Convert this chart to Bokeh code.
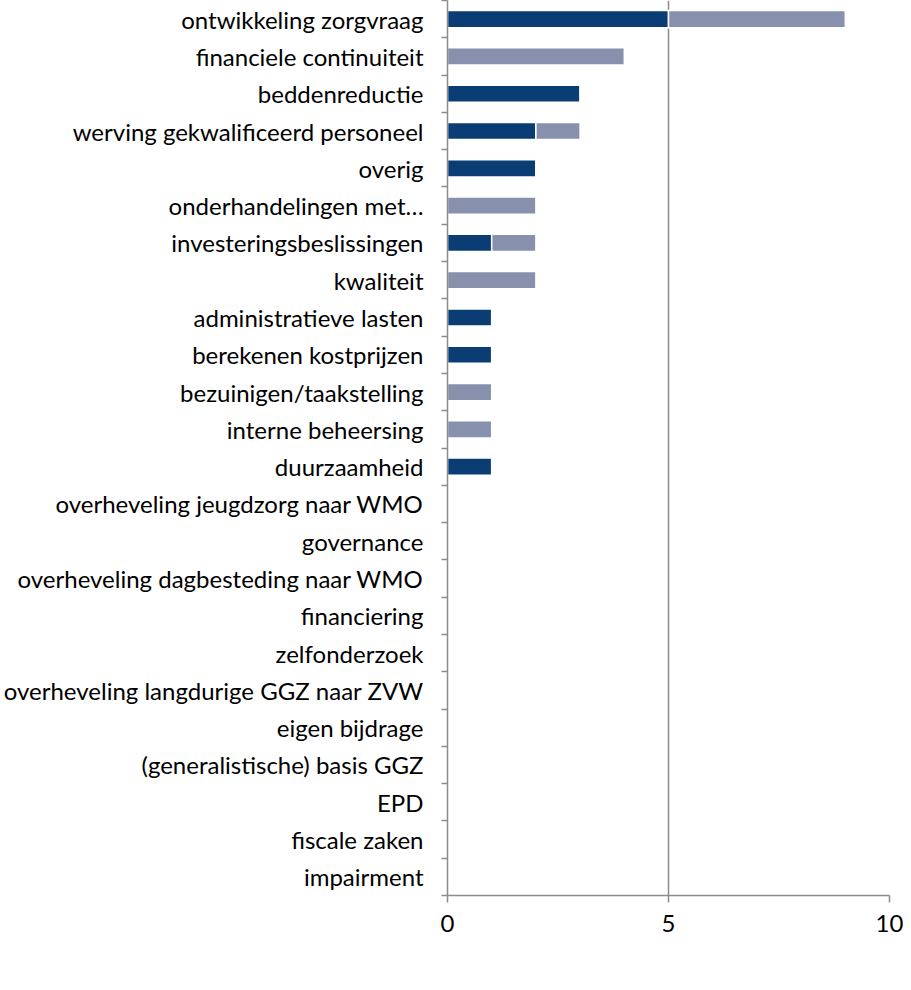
from bokeh.plotting import figure
from bokeh.layouts import column
from bokeh.models import ColumnDataSource, FixedTicker, Legend, LegendItem, Range1d
from bokeh.embed import file_html
from bokeh.resources import INLINE

categories = [
    "ontwikkeling zorgvraag", "financiele continuiteit", "beddenreductie",
    "werving gekwalificeerd personeel", "overig", "onderhandelingen met…",
    "investeringsbeslissingen", "kwaliteit", "administratieve lasten",
    "berekenen kostprijzen", "bezuinigen/taakstelling", "interne beheersing",
    "duurzaamheid", "overheveling jeugdzorg naar WMO", "governance",
    "overheveling dagbesteding naar WMO", "financiering", "zelfonderzoek",
    "overheveling langdurige GGZ naar ZVW", "eigen bijdrage",
    "(generalistische) basis GGZ", "EPD", "fiscale zaken", "impairment",
]
keuze1 = [5, 0, 3, 2, 2, 0, 1, 0, 1, 1, 0, 0, 1, 0, 0, 0, 0, 0, 0, 0, 0, 0, 0, 0]
keuze2 = [4, 4, 0, 1, 0, 2, 1, 2, 0, 0, 1, 1, 0, 0, 0, 0, 0, 0, 0, 0, 0, 0, 0, 0]
series_names = ["1e keuze", "2e keuze"]
x_ticks = [0, 5, 10]

C1 = "#0B3D75"
C2 = "#8790AD"
AX = "#8C8C8C"
FONT = "Lato"
FS = "24px"

n = len(categories)
ypos = [n - i - 0.5 for i in range(n)]
source = ColumnDataSource(dict(y=ypos, k1=keuze1, k2=keuze2))

# ---------------- main chart ----------------
p = figure(width=903, height=942, output_backend="svg", toolbar_location=None,
           x_range=Range1d(0, 10), y_range=Range1d(0, n),
           min_border_left=445, min_border_right=14, min_border_top=0,
           min_border_bottom=47)
p.outline_line_color = None
p.background_fill_color = "white"
p.border_fill_color = "white"

rs = p.hbar_stack(["k1", "k2"], y="y", height=0.46, color=[C1, C2],
                  line_color="white", line_width=1.5, source=source)

p.xaxis.ticker = FixedTicker(ticks=x_ticks)
p.xaxis.axis_label = None
p.xaxis.axis_label_standoff = 0
p.xaxis.axis_line_color = AX
p.xaxis.axis_line_width = 1.5
p.xaxis.major_tick_line_color = AX
p.xaxis.major_tick_line_width = 1.5
p.xaxis.major_tick_out = 7
p.xaxis.major_tick_in = 0
p.xaxis.minor_tick_line_color = None
p.xaxis.major_label_text_font = FONT
p.xaxis.major_label_text_font_size = FS
p.xaxis.major_label_text_color = "black"
p.xaxis.major_label_standoff = 12

p.yaxis.ticker = FixedTicker(ticks=ypos, minor_ticks=list(range(n + 1)))
p.yaxis.major_label_overrides = {y: c for y, c in zip(ypos, categories)}
p.yaxis.axis_label = None
p.yaxis.axis_line_color = AX
p.yaxis.axis_line_width = 1.5
p.yaxis.major_tick_line_color = None
p.yaxis.minor_tick_line_color = AX
p.yaxis.minor_tick_line_width = 1.5
p.yaxis.minor_tick_out = 6
p.yaxis.minor_tick_in = 0
p.yaxis.major_label_text_font = FONT
p.yaxis.major_label_text_font_size = FS
p.yaxis.major_label_text_color = "black"
p.yaxis.major_label_standoff = 18

p.ygrid.grid_line_color = None
p.xgrid.ticker = FixedTicker(ticks=[t for t in x_ticks if t > 0])
p.xgrid.grid_line_color = AX
p.xgrid.grid_line_width = 1.5

# ---------------- legend strip ----------------
p2 = figure(width=903, height=32, output_backend="svg", toolbar_location=None,
            x_range=Range1d(0, 1), y_range=Range1d(0, 1),
            x_axis_type=None, y_axis_type=None,
            min_border_left=0, min_border_right=0, min_border_top=0,
            min_border_bottom=0)
p2.outline_line_color = None
p2.xgrid.grid_line_color = None
p2.ygrid.grid_line_color = None

empty = ColumnDataSource(dict(y=[], right=[]))
l1 = p2.hbar(y="y", right="right", height=0.5, color=C1, line_color=None, source=empty)
l2 = p2.hbar(y="y", right="right", height=0.5, color=C2, line_color=None, source=empty)

legend = Legend(items=[LegendItem(label=series_names[0], renderers=[l1]),
                       LegendItem(label=series_names[1], renderers=[l2])],
                orientation="horizontal", location=(644, 1),
                glyph_width=13, glyph_height=13, label_standoff=4, spacing=27,
                label_text_font=FONT, label_text_font_size=FS,
                label_text_color="black",
                border_line_color=None, background_fill_alpha=0,
                padding=0, margin=0)
p2.add_layout(legend, "center")

layout = column(p, p2, spacing=0)
open("out.html", "w").write(file_html(layout, INLINE))
